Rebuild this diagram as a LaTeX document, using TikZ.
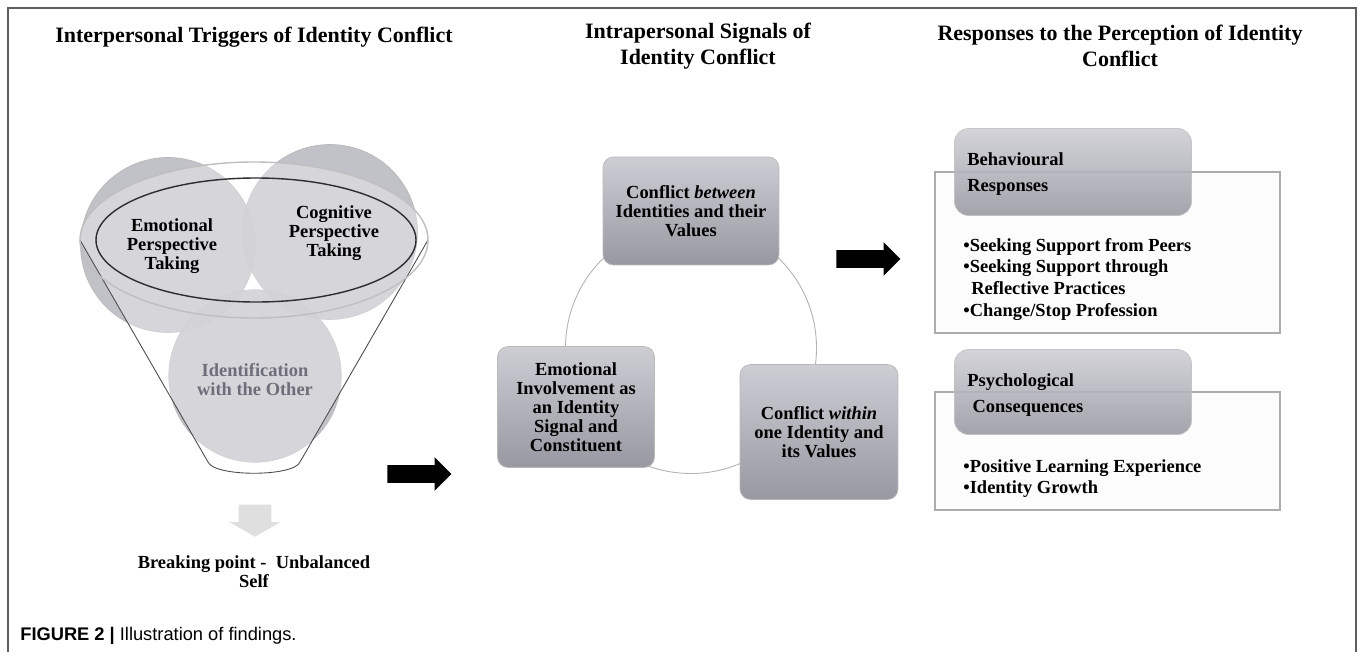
\documentclass[tikz,border=0pt]{standalone}
\usepackage{fontspec}
\setmainfont{Liberation Serif}
\newfontfamily\capfont{Liberation Sans}
\usetikzlibrary{shapes.arrows, positioning}
\definecolor{boxgray}{RGB}{152,152,162}
\definecolor{boxlight}{RGB}{205,205,212}
\definecolor{ballgray}{RGB}{186,186,194}
\definecolor{framegray}{RGB}{95,95,95}
\definecolor{softtext}{RGB}{110,110,122}

\begin{document}
\begin{tikzpicture}[x=0.02cm, y=-0.02cm,
  ttl/.style={font=\fontsize{12.5}{14.8}\selectfont\bfseries, align=center},
  txt/.style={font=\fontsize{10.5}{10.8}\selectfont\bfseries, align=center},
  lst/.style={font=\fontsize{10.5}{12.3}\selectfont\bfseries, align=left, anchor=north west, inner sep=0pt},
  ball/.style={circle, fill=ballgray, fill opacity=0.9, draw=gray!55, inner sep=0pt},
  cyclebox/.style={txt, rounded corners=6pt, top color=boxlight, bottom color=boxgray, draw=gray!55},
  headbox/.style={rounded corners=8pt, top color=boxlight, bottom color=boxgray, draw=gray!50, opacity=0.88, minimum width=4.74cm},
  listbox/.style={draw=gray!65, line width=0.8pt, fill=gray!2, minimum width=6.9cm},
  blockarrow/.style={single arrow, fill=black, inner xsep=0pt, inner ysep=0.17cm, minimum height=1.28cm, single arrow head extend=0.16cm}
]
\useasboundingbox (0,0) rectangle (1358,652);
\draw[framegray, line width=1.2pt] (8,652) -- (8,8) -- (1356,8) -- (1356,652);

% column titles
\node[ttl] (t1) at (254,37) {Interpersonal Triggers of Identity Conflict};
\node[ttl] (t2) at (698,46) {Intrapersonal Signals of\\Identity Conflict};
\node[ttl] (t3) at (1120,46) {Responses to the Perception of Identity\\Conflict};

% left: perspective taking funnel
\node[ball, minimum size=3.5cm] (emo) at (168,245) {};
\node[ball, minimum size=3.5cm] (cog) at (330,232) {};
\node[ball, minimum size=3.45cm] (ident) at (255,376) {};
\fill[white, fill opacity=0.35] (428,240) arc[start angle=0, end angle=-180, x radius=174, y radius=78]
  -- (208,462) .. controls (214,477) and (294,477) .. (300,462) -- cycle;
\draw[gray!60!black, line width=0.5pt] (80,240) -- (208,462) .. controls (214,477) and (294,477) .. (300,462) -- (428,240);
\draw[gray!50, line width=0.8pt] (254,240) ellipse [x radius=174, y radius=78];
\draw[gray!35!black, line width=0.8pt] (256,240) ellipse [x radius=160, y radius=62];
\node[txt] (emotxt) at (172,246) {Emotional\\Perspective\\Taking};
\node[txt] (cogtxt) at (334,233) {Cognitive\\Perspective\\Taking};
\node[txt, text=softtext] (identtxt) at (255,380) {Identification\\with the Other};

\node[single arrow, rotate=-90, fill=gray!25, inner xsep=0pt, inner ysep=0.32cm, minimum height=0.64cm,
  single arrow head extend=0.18cm, single arrow tip angle=120] (dwn) at (255,516) {};
\node[txt] (brk) at (254,572) {Breaking point -~ Unbalanced\\Self};

\node[blockarrow] (arrA) at (415,474) {};

% middle: cycle of signals
\draw[gray!60, line width=0.5pt] (691,348) circle (125.5);
\node[cyclebox, minimum width=3.52cm, minimum height=2.16cm] (betw) at (691,211) {Conflict \textit{between}\\Identities and their\\Values};
\node[cyclebox, minimum width=3.14cm, minimum height=2.42cm] (emoinv) at (576,407) {Emotional\\Involvement as\\an Identity\\Signal and\\Constituent};
\node[cyclebox, minimum width=3.16cm, minimum height=2.7cm] (with) at (819,432) {Conflict \textit{within}\\one Identity and\\its Values};

\node[blockarrow] (arrB) at (864,259) {};

% right: responses
\node[listbox, minimum height=3.22cm] (behavlist) at (1107.5,252.5) {};
\node[headbox, minimum height=1.74cm] (behav) at (1073,172) {};
\node[txt, align=left, anchor=west, inner sep=0pt] (behavtxt) at (967,174) {Behavioural\\[4.4pt]Responses};
\node[lst] (behavitems) at (963,238) {\textbullet Seeking Support from Peers\\
  \textbullet Seeking Support through\\
  \hspace*{4.5pt}Reflective Practices\\
  \textbullet Change/Stop Profession};

\node[listbox, minimum height=2.36cm] (psychlist) at (1107.5,451) {};
\node[headbox, minimum height=1.7cm] (psych) at (1073,392) {};
\node[txt, align=left, anchor=west, inner sep=0pt] (psychtxt) at (967,395) {Psychological\\[4.4pt]\hspace*{3pt}Consequences};
\node[lst] (psychitems) at (963,459) {\textbullet Positive Learning Experience\\
  \textbullet Identity Growth};

\node[anchor=west, inner sep=0pt, font=\capfont\fontsize{10.4}{12}\selectfont] (cap) at (20,636)
  {\textbf{FIGURE 2 |} Illustration of findings.};
\end{tikzpicture}
\end{document}
